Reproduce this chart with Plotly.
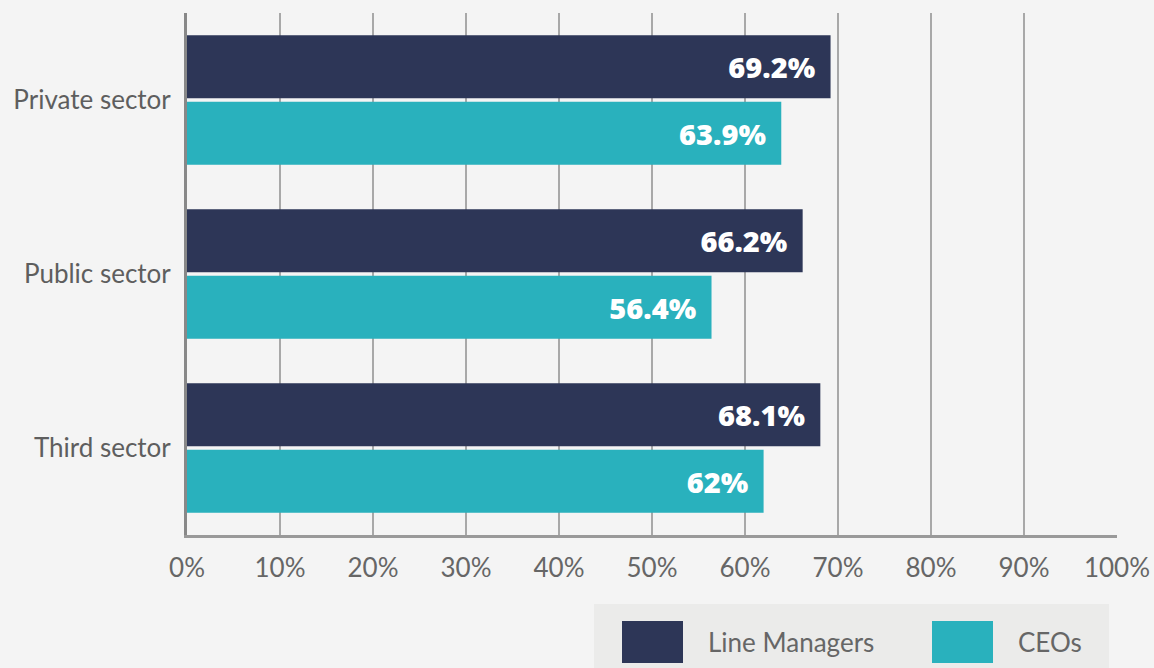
import plotly.graph_objects as go

categories = ["Private sector", "Public sector", "Third sector"]
line_managers = [69.2, 66.2, 68.1]
ceos = [63.9, 56.4, 62.0]
series_names = ["Line Managers", "CEOs"]
tick_vals = [0, 10, 20, 30, 40, 50, 60, 70, 80, 90, 100]
tick_text = [f"{v}%" for v in tick_vals]

DARK = "#2d3657"
TEAL = "#29b1bd"
W, H = 1154, 668
L, R, T, B = 187, 37, 13, 133
PW, PH = W - L - R, H - T - B

def px(x):
    return (x - L) / PW

def py(y):
    return (H - B - y) / PH

def fmt(v):
    return f"{v:g}%\u00a0\u2009"

fig = go.Figure()
for name, vals, col in [(series_names[0], line_managers, DARK), (series_names[1], ceos, TEAL)]:
    fig.add_trace(go.Bar(
        y=categories, x=vals, name=name, orientation="h",
        marker=dict(color=col, line=dict(width=0)),
        text=[fmt(v) for v in vals], textposition="inside",
        insidetextanchor="end", textangle=0,
        textfont=dict(family="Open Sans", size=29, color="white", weight=800),
        showlegend=False, cliponaxis=False,
    ))

fig.update_layout(
    width=W, height=H, autosize=False,
    margin=dict(l=L, r=R, t=T, b=B, pad=0, autoexpand=False),
    paper_bgcolor="#f4f4f4", plot_bgcolor="#f4f4f4",
    barmode="group", bargap=0.236, bargroupgap=0.053,
    font=dict(family="Lato", color="#666666"),
    xaxis=dict(range=[0, 100], tickvals=tick_vals, ticktext=tick_text,
               showgrid=True, gridcolor="#a8a8a8", gridwidth=2,
               zeroline=False, showline=True, linecolor="#999999", linewidth=3,
               tickfont=dict(size=26, color="#666666"), ticks="", ticklen=0,
               ticklabelstandoff=8, automargin=False, fixedrange=True),
    yaxis=dict(autorange="reversed", showgrid=False, zeroline=False,
               showline=True, linecolor="#888888", linewidth=3,
               tickfont=dict(size=26, color="#5e5e5e"), ticks="",
               ticklabelstandoff=8, automargin=False, fixedrange=True),
    uniformtext=dict(mode=False),
)

# custom legend box
shapes = [dict(type="rect", xref="paper", yref="paper",
               x0=px(594), x1=px(1109), y0=py(604), y1=py(672),
               fillcolor="#ebebea", line=dict(width=0), layer="below")]
ann = []
items = [(series_names[0], DARK, 622, 706), (series_names[1], TEAL, 932, 1016)]
for name, col, sx, tx in items:
    shapes.append(dict(type="rect", xref="paper", yref="paper",
                       x0=px(sx), x1=px(sx + 61), y0=py(621), y1=py(663),
                       fillcolor=col, line=dict(width=0)))
    ann.append(dict(xref="paper", yref="paper", x=px(tx), y=py(642),
                    text=name, showarrow=False, xanchor="left", yanchor="middle",
                    font=dict(family="Lato", size=26, color="#666666")))
fig.update_layout(shapes=shapes, annotations=ann)

fig.write_html("out.html", config={"displayModeBar": False},
               post_script="document.body.style.margin='0';document.body.style.overflow='hidden';")
